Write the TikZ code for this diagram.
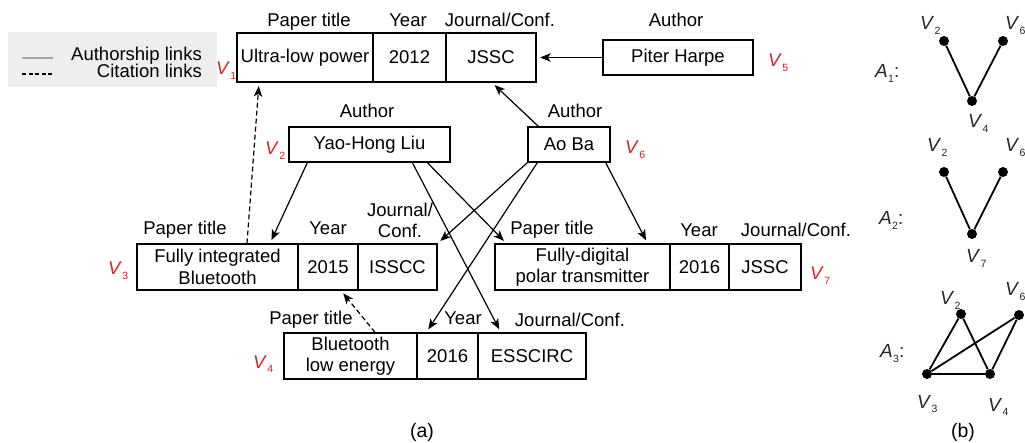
\documentclass[tikz,border=0pt]{standalone}
\usepackage{fontspec}
\setmainfont{Liberation Sans}
\usetikzlibrary{arrows.meta}
\definecolor{vred}{RGB}{218,32,32}
\definecolor{legendbg}{RGB}{238,238,238}
\newcommand{\mainfs}{\fontsize{18.5}{21.5}\selectfont}
\newcommand{\labfs}{\fontsize{19}{19}\selectfont}
\newcommand{\vsub}[2]{\textit{#1}\kern0.3pt\raisebox{-0.22em}{\fontsize{10.5}{10.5}\selectfont #2}}

\begin{document}
\begin{tikzpicture}[x=1pt,y=-1pt,
  every node/.style={font=\mainfs, inner sep=0pt},
  cell/.style={draw, line width=1.3pt, minimum height=46pt, align=center},
  head/.style={anchor=base, align=center},
  vlab/.style={text=vred, anchor=base west},
  glab/.style={text=black!85, anchor=base west, font=\labfs},
  dot/.style={circle, fill=black, minimum size=10pt},
  gedge/.style={line width=1.8pt},
  auth/.style={line width=1.2pt, -{Stealth[length=10.5pt,width=8.5pt,inset=2.8pt]}, shorten >=3.5pt},
  cite/.style={auth, dash pattern=on 5pt off 3pt}]
\useasboundingbox (0,0) rectangle (1025,443);

% ---- legend ----
\fill[legendbg] (8,32) rectangle (217,87);
\draw[gray!70, line width=1.2pt] (22,58) -- (53,58);
\draw[line width=1.2pt, dash pattern=on 4pt off 2.5pt] (22,74) -- (53,74);
\node[anchor=base east] (legA) at (202,61) {Authorship links};
\node[anchor=base east] (legC) at (202,78) {Citation links};

% ---- paper V1 ----
\node[cell, minimum width=136pt, minimum height=49pt] (v1t) at (305,57.5) {Ultra-low power};
\node[cell, minimum width=73pt, minimum height=49pt] (v1y) at (409.5,57.5) {2012};
\node[cell, minimum width=90pt, minimum height=49pt] (v1j) at (491,57.5) {JSSC};
\node[head] (h1t) at (309,27) {Paper title};
\node[head] (h1y) at (408,27) {Year};
\node[head] (h1j) at (500,27) {Journal/Conf.};
\node[vlab] (l1) at (216,75) {\vsub{V}{1}};

% ---- author V5 ----
\node[cell, minimum width=150pt, minimum height=35pt] (piter) at (678,57.5) {Piter Harpe};
\node[head] (h5) at (676,27) {Author};
\node[vlab] (l5) at (768,67) {\vsub{V}{5}};

% ---- authors V2, V6 ----
\node[cell, minimum width=161pt, minimum height=35pt] (yao) at (369.5,144.5) {Yao-Hong Liu};
\node[head] (h2) at (367,118) {Author};
\node[vlab] (l2) at (265,155) {\vsub{V}{2}};
\node[cell, minimum width=82pt, minimum height=35pt] (ao) at (569,144.5) {Ao Ba};
\node[head] (h6) at (575,118) {Author};
\node[vlab] (l6) at (625,154) {\vsub{V}{6}};

% ---- paper V3 ----
\node[cell, minimum width=161pt] (v3t) at (217.5,267) {Fully integrated\\Bluetooth};
\node[cell, minimum width=60pt] (v3y) at (328,267) {2015};
\node[cell, minimum width=79pt] (v3j) at (397.5,267) {ISSCC};
\node[head] (h3t) at (185,235) {Paper title};
\node[head] (h3y) at (328,235) {Year};
\node[head] (h3j) at (400,238) {Journal/\\Conf.};
\node[vlab] (l3) at (108,275) {\vsub{V}{3}};

% ---- paper V7 ----
\node[cell, minimum width=175pt] (v7t) at (582.5,267) {Fully-digital\\polar transmitter};
\node[cell, minimum width=59pt] (v7y) at (699.5,267) {2016};
\node[cell, minimum width=72pt] (v7j) at (765,267) {JSSC};
\node[head] (h7t) at (552,235) {Paper title};
\node[head] (h7y) at (699,237) {Year};
\node[head] (h7j) at (796,237) {Journal/Conf.};
\node[vlab] (l7) at (810,280) {\vsub{V}{7}};

% ---- paper V4 ----
\node[cell, minimum width=133pt] (v4t) at (350.5,356) {Bluetooth\\low energy};
\node[cell, minimum width=61pt] (v4y) at (447.5,356) {2016};
\node[cell, minimum width=108pt] (v4j) at (532,356) {ESSCIRC};
\node[head] (h4t) at (311,325) {Paper title};
\node[head] (h4y) at (463,325) {Year};
\node[head] (h4j) at (570,327) {Journal/Conf.};
\node[vlab] (l4) at (253,368) {\vsub{V}{4}};

% ---- authorship links ----
\draw[auth] (piter.west) -- (v1j.east);
\draw[auth] ([xshift=11pt]ao.north west) -- ([xshift=1pt]v1j.south);
\draw[auth] ([xshift=19pt]yao.south west) -- ([xshift=52.5pt]v3t.north);
\draw[auth] ([xshift=124pt]yao.south west) -- ([xshift=23.5pt]v4j.north west);
\draw[auth] ([xshift=139pt]yao.south west) -- ([xshift=12pt]v7t.north west);
\draw[auth] (ao.south west) -- (v3j.north east);
\draw[auth] ([xshift=10pt]ao.south west) -- ([xshift=10pt]v4y.north west);
\draw[auth] ([xshift=-5pt]ao.south east) -- ([xshift=-23pt]v7t.north east);

% ---- citation links ----
\draw[cite] ([xshift=29.5pt]v3t.north) -- ([xshift=-46pt]v1t.south);
\draw[cite] ([xshift=24.5pt]v4t.north) -- ([xshift=13pt]v3y.south);

\node (capa) at (422,432) {\fontsize{19.5}{19.5}\selectfont (a)};

% ---- (b): A1 ----
\node[glab] (a1) at (875,78) {\vsub{A}{1}:};
\node[dot] (a1v2) at (944,41) {};
\node[dot] (a1v6) at (1003,41) {};
\node[dot] (a1v4) at (972,101) {};
\draw[gedge] (a1v2) -- (a1v4) -- (a1v6);
\node[glab] (a1l2) at (920,30) {\vsub{V}{2}};
\node[glab] (a1l6) at (1005,30) {\vsub{V}{6}};
\node[glab] (a1l4) at (968,128) {\vsub{V}{4}};

% ---- (b): A2 ----
\node[glab] (a2) at (879,225) {\vsub{A}{2}:};
\node[dot] (a2v2) at (944,172) {};
\node[dot] (a2v6) at (1003,172) {};
\node[dot] (a2v7) at (972,234) {};
\draw[gedge] (a2v2) -- (a2v7) -- (a2v6);
\node[glab] (a2l2) at (927,152) {\vsub{V}{2}};
\node[glab] (a2l6) at (1005,152) {\vsub{V}{6}};
\node[glab] (a2l7) at (966,263) {\vsub{V}{7}};

% ---- (b): A3 ----
\node[glab] (a3) at (880,358) {\vsub{A}{3}:};
\node[dot] (a3v2) at (961,314) {};
\node[dot] (a3v6) at (1019,315) {};
\node[dot] (a3v3) at (927,374) {};
\node[dot] (a3v4) at (990,374) {};
\draw[gedge] (a3v3) -- (a3v2) -- (a3v4);
\draw[gedge] (a3v3) -- (a3v6) -- (a3v4);
\draw[gedge] (a3v3) -- (a3v4);
\node[glab] (a3l2) at (940,305) {\vsub{V}{2}};
\node[glab] (a3l6) at (1005,296) {\vsub{V}{6}};
\node[glab] (a3l3) at (917,408) {\vsub{V}{3}};
\node[glab] (a3l4) at (988,411) {\vsub{V}{4}};

\node (capb) at (963,432) {\fontsize{19.5}{19.5}\selectfont (b)};
\end{tikzpicture}
\end{document}
